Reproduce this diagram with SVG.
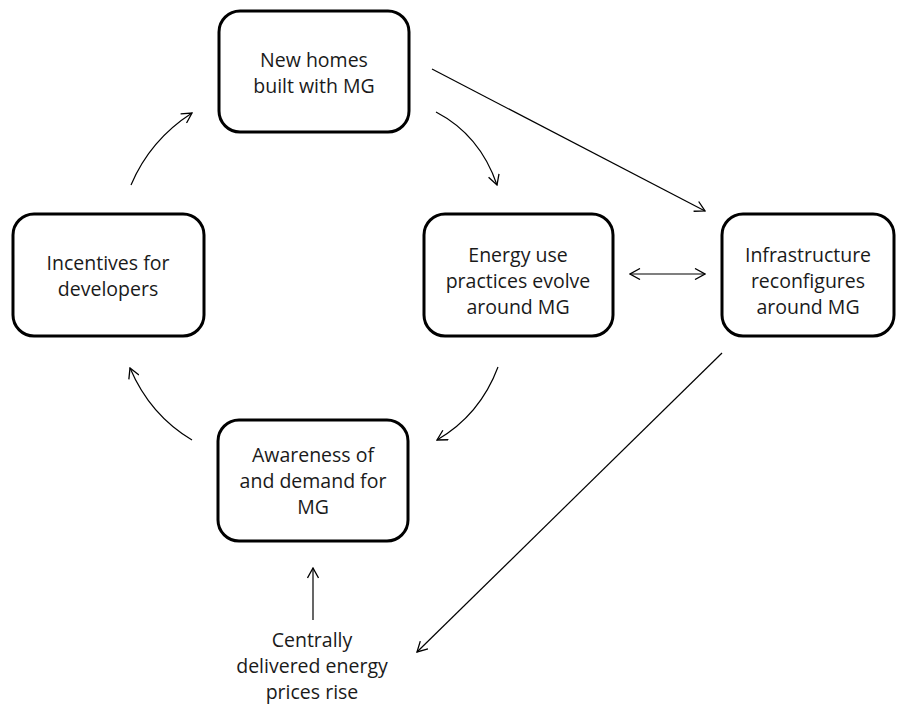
<svg xmlns="http://www.w3.org/2000/svg" width="905" height="711" viewBox="0 0 905 711">
  <style>
    .box { fill: #ffffff; stroke: #000000; stroke-width: 3; }
    .lbl { font-family: "Open Sans", "Liberation Sans", sans-serif; font-size: 19.5px; fill: #1a1a1a; text-anchor: middle; }
    .edge { fill: none; stroke: #000000; stroke-width: 1.2; marker-end: url(#arrow); }
    .both { marker-start: url(#arrow); }
  </style>
  <defs>
    <marker id="arrow" viewBox="0 0 12 12" markerUnits="userSpaceOnUse" markerWidth="12" markerHeight="12" refX="11" refY="6" orient="auto-start-reverse">
      <path d="M1,0.5 L11,6 L1,11.5" fill="none" stroke="#000000" stroke-width="1.3"/>
    </marker>
  </defs>

  <rect width="905" height="711" fill="#ffffff"/>

  <!-- feedback loop and influences -->
  <g id="connectors">
    <path class="edge" d="M432,69 L705,211"/>
    <path class="edge" d="M436,112 Q480,135 497,185"/>
    <path class="edge" d="M131,185 Q150,140 192,113"/>
    <path class="edge" d="M192,440 Q150,415 130,368"/>
    <path class="edge" d="M498,367 Q480,415 437,440"/>
    <path class="edge both" d="M630,274 L705,274"/>
    <path class="edge" d="M722,353 L417,652"/>
    <path class="edge" d="M313,620 L313,568"/>
  </g>

  <g id="new-homes">
    <rect class="box" x="219" y="11" width="190" height="121" rx="21"/>
    <text class="lbl" x="314" y="67">New homes</text>
    <text class="lbl" x="314" y="93">built with MG</text>
  </g>

  <g id="incentives">
    <rect class="box" x="13" y="214" width="191" height="122" rx="21"/>
    <text class="lbl" x="108" y="270">Incentives for</text>
    <text class="lbl" x="108" y="296">developers</text>
  </g>

  <g id="energy-use">
    <rect class="box" x="424" y="214" width="189" height="122" rx="21"/>
    <text class="lbl" x="518" y="262">Energy use</text>
    <text class="lbl" x="518" y="288">practices evolve</text>
    <text class="lbl" x="518" y="314">around MG</text>
  </g>

  <g id="infrastructure">
    <rect class="box" x="722" y="214" width="172" height="122" rx="21"/>
    <text class="lbl" x="808" y="262">Infrastructure</text>
    <text class="lbl" x="808" y="288">reconfigures</text>
    <text class="lbl" x="808" y="314">around MG</text>
  </g>

  <g id="awareness">
    <rect class="box" x="218" y="420" width="190" height="121" rx="21"/>
    <text class="lbl" x="313" y="462">Awareness of</text>
    <text class="lbl" x="313" y="488">and demand for</text>
    <text class="lbl" x="313" y="514">MG</text>
  </g>

  <g id="energy-prices">
    <text class="lbl" x="312" y="647">Centrally</text>
    <text class="lbl" x="312" y="673">delivered energy</text>
    <text class="lbl" x="312" y="699">prices rise</text>
  </g>
</svg>
